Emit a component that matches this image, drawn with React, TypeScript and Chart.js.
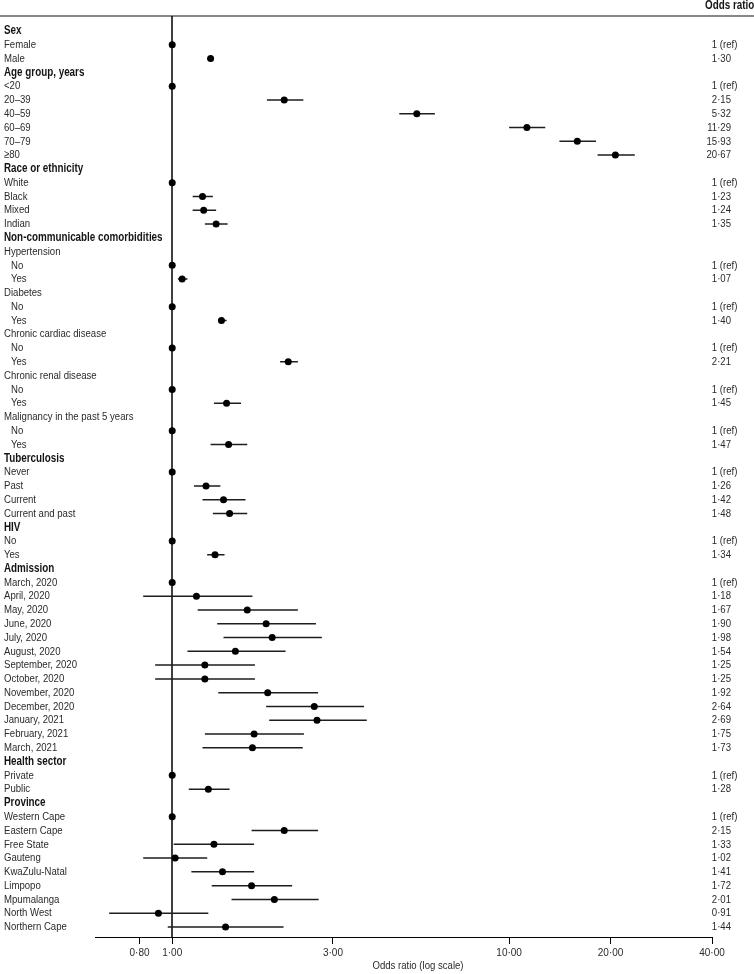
import React, { useEffect, useRef } from 'react';
import { Chart, registerables } from 'chart.js';

Chart.register(...registerables);

const N = null;

const rowLabels: string[] = [
  'Sex', 'Female', 'Male',
  'Age group, years', '<20', '20–39', '40–59', '60–69', '70–79', '≥80',
  'Race or ethnicity', 'White', 'Black', 'Mixed', 'Indian',
  'Non-communicable comorbidities',
  'Hypertension', 'No', 'Yes',
  'Diabetes', 'No', 'Yes',
  'Chronic cardiac disease', 'No', 'Yes',
  'Chronic renal disease', 'No', 'Yes',
  'Malignancy in the past 5 years', 'No', 'Yes',
  'Tuberculosis', 'Never', 'Past', 'Current', 'Current and past',
  'HIV', 'No', 'Yes',
  'Admission', 'March, 2020', 'April, 2020', 'May, 2020', 'June, 2020', 'July, 2020', 'August, 2020',
  'September, 2020', 'October, 2020', 'November, 2020', 'December, 2020', 'January, 2021', 'February, 2021', 'March, 2021',
  'Health sector', 'Private', 'Public',
  'Province', 'Western Cape', 'Eastern Cape', 'Free State', 'Gauteng', 'KwaZulu-Natal', 'Limpopo',
  'Mpumalanga', 'North West', 'Northern Cape',
];

// h = bold header, s = sub-header, i = item, n = indented item
const rowKinds: string[] = (
  'hii' + 'hiiiiii' + 'hiiii' + 'hsnnsnnsnnsnnsnn' + 'hiiii' + 'hii' + 'hiiiiiiiiiiiii' + 'hii' + 'hiiiiiiiii'
).split('');

const oddsRatios: (number | null)[] = [
  N, 1, 1.30,
  N, 1, 2.15, 5.32, 11.29, 15.93, 20.67,
  N, 1, 1.23, 1.24, 1.35,
  N, N, 1, 1.07, N, 1, 1.40, N, 1, 2.21, N, 1, 1.45, N, 1, 1.47,
  N, 1, 1.26, 1.42, 1.48,
  N, 1, 1.34,
  N, 1, 1.18, 1.67, 1.90, 1.98, 1.54, 1.25, 1.25, 1.92, 2.64, 2.69, 1.75, 1.73,
  N, 1, 1.28,
  N, 1, 2.15, 1.33, 1.02, 1.41, 1.72, 2.01, 0.91, 1.44,
];

const ciLower: (number | null)[] = [
  N, N, 1.27,
  N, N, 1.91, 4.72, 10.0, 14.1, 18.3,
  N, N, 1.15, 1.15, 1.25,
  N, N, N, 1.04, N, N, 1.37, N, N, 2.09, N, N, 1.33, N, N, 1.30,
  N, N, 1.16, 1.23, 1.32,
  N, N, 1.27,
  N, N, 0.82, 1.19, 1.36, 1.42, 1.11, 0.89, 0.89, 1.37, 1.90, 1.94, 1.25, 1.23,
  N, N, 1.12,
  N, N, 1.72, 1.01, 0.82, 1.14, 1.31, 1.50, 0.65, 0.97,
];

const ciUpper: (number | null)[] = [
  N, N, 1.33,
  N, N, 2.45, 6.02, 12.8, 18.1, 23.6,
  N, N, 1.32, 1.35, 1.46,
  N, N, N, 1.11, N, N, 1.45, N, N, 2.36, N, N, 1.60, N, N, 1.67,
  N, N, 1.39, 1.65, 1.67,
  N, N, 1.43,
  N, N, 1.73, 2.36, 2.67, 2.78, 2.17, 1.76, 1.76, 2.71, 3.71, 3.78, 2.46, 2.44,
  N, N, 1.48,
  N, N, 2.71, 1.75, 1.27, 1.75, 2.27, 2.72, 1.28, 2.14,
];

const xTicks: number[] = [0.8, 1, 3, 10, 20, 40];
const xMin = 0.59;
const xMax = 40;
const axisTitle = 'Odds ratio (log scale)';
const columnTitle = 'Odds ratio';

const fmt = (v: number) => v.toFixed(2).replace('.', '·');

function detectNarrow(): boolean {
  const c = document.createElement('canvas').getContext('2d')!;
  c.font = '20px "Liberation Sans Narrow", monospace';
  const a = c.measureText('abcdefghijkABCD').width;
  c.font = '20px monospace';
  const b = c.measureText('abcdefghijkABCD').width;
  return Math.abs(a - b) > 0.5;
}

export default function App() {
  const ref = useRef<HTMLCanvasElement>(null);

  useEffect(() => {
    const canvas = ref.current!;
    const narrow = detectNarrow();
    const family = narrow ? '"Liberation Sans Narrow"' : '"Liberation Sans"';
    const sx = narrow ? 1 : 0.82;
    const fs = 11.7;
    const fsBold = 12;
    const textColor = '#2a2a2a';

    const drawText = (ctx: CanvasRenderingContext2D, t: string, x: number, y: number, align: CanvasTextAlign) => {
      ctx.save();
      ctx.translate(x, y);
      ctx.scale(sx, 1);
      ctx.textAlign = align;
      ctx.textBaseline = 'middle';
      ctx.fillText(t, 0, 0);
      ctx.restore();
    };

    const decor = {
      id: 'decor',
      beforeDatasetsDraw(chart: any) {
        const { ctx, chartArea, scales } = chart;
        const x1 = Math.round(scales.x.getPixelForValue(1));
        ctx.save();
        ctx.strokeStyle = '#000';
        ctx.lineWidth = 1.5;
        ctx.beginPath();
        ctx.moveTo(x1, chartArea.top);
        ctx.lineTo(x1, chartArea.bottom);
        ctx.stroke();
        ctx.lineWidth = 1.2;
        ctx.strokeStyle = '#111';
        ctx.beginPath();
        ctx.moveTo(0, chartArea.top);
        ctx.lineTo(chart.width, chartArea.top);
        ctx.stroke();
        ctx.restore();
      },
      afterDraw(chart: any) {
        const { ctx, scales } = chart;
        const ys = scales.y;
        ctx.save();
        ctx.fillStyle = textColor;
        ctx.font = `${fs}px ${family}`;
        const refNumW = ctx.measureText('1·00').width * sx;
        const valueRight = 731;
        rowLabels.forEach((lab, i) => {
          const y = ys.getPixelForValue(i);
          const kind = rowKinds[i];
          if (kind === 'h') {
            ctx.font = `bold ${fsBold}px ${family}`;
            ctx.fillStyle = '#141414';
          } else {
            ctx.font = `${fs}px ${family}`;
            ctx.fillStyle = textColor;
          }
          drawText(ctx, lab, kind === 'n' ? 11 : 4, y, 'left');
          ctx.font = `${fs}px ${family}`;
          ctx.fillStyle = textColor;
          const or = oddsRatios[i];
          if (or !== null) {
            if (ciLower[i] === null) {
              drawText(ctx, '1 (ref)', valueRight - refNumW, y, 'left');
            } else {
              drawText(ctx, fmt(or), valueRight, y, 'right');
            }
          }
        });
        ctx.font = `bold ${fsBold}px ${family}`;
        ctx.fillStyle = '#141414';
        drawText(ctx, columnTitle, 705, 6, 'left');
        ctx.font = `${fs}px ${family}`;
        ctx.fillStyle = textColor;
        drawText(ctx, axisTitle, 418, 966, 'center');
        ctx.restore();
      },
    };

    const pointData: { x: number; y: number }[] = [];
    const ciData: { x: number | null; y: number | null }[] = [];
    oddsRatios.forEach((v, i) => {
      if (v !== null) pointData.push({ x: v, y: i });
      const lo = ciLower[i];
      const hi = ciUpper[i];
      if (lo !== null && hi !== null) {
        ciData.push({ x: lo, y: i }, { x: hi, y: i }, { x: null, y: null });
      }
    });

    const n = rowLabels.length;
    const top = 16;
    const bottom = 937;
    const firstY = 31;
    const lastY = 927;
    const perPx = (n - 1) / (lastY - firstY);
    const yMin = -(firstY - top) * perPx;
    const yMax = n - 1 + (bottom - lastY) * perPx;

    const chart = new Chart(canvas, {
      type: 'scatter',
      data: {
        datasets: [
          {
            label: 'Odds ratio',
            data: pointData,
            pointRadius: 3.5,
            pointBackgroundColor: '#000',
            pointBorderWidth: 0,
            showLine: false,
          } as any,
          {
            label: '95% CI',
            data: ciData,
            showLine: true,
            spanGaps: false,
            pointRadius: 0,
            borderColor: '#1e1e1e',
            borderWidth: 1.5,
          } as any,
        ],
      },
      options: {
        responsive: false,
        animation: false,
        devicePixelRatio: 1,
        layout: { padding: { left: 95, right: 754 - 712, top, bottom: 0 } },
        plugins: { legend: { display: false }, tooltip: { enabled: false } },
        events: [],
        scales: {
          x: {
            type: 'logarithmic',
            min: xMin,
            max: xMax,
            afterBuildTicks: (scale: any) => {
              scale.ticks = xTicks.map((v) => ({ value: v }));
            },
            afterFit: (scale: any) => {
              scale.height = 974 - bottom;
            },
            ticks: {
              autoSkip: false,
              maxRotation: 0,
              padding: 3,
              color: textColor,
              font: { family: narrow ? 'Liberation Sans Narrow' : 'Liberation Sans', size: narrow ? 11.5 : 10 },
              callback: (v: any) => fmt(Number(v)),
            },
            grid: {
              display: true,
              drawOnChartArea: false,
              drawTicks: true,
              tickLength: 7,
              tickWidth: 1,
              tickColor: '#000',
            },
            border: { display: true, color: '#000', width: 1 },
          },
          y: {
            type: 'linear',
            reverse: true,
            min: yMin,
            max: yMax,
            display: false,
          },
        },
      },
      plugins: [decor],
    } as any);

    return () => chart.destroy();
  }, []);

  return (
    <div style={{ position: 'absolute', left: 0, top: 0, width: 754, height: 974, background: '#fff' }}>
      <canvas ref={ref} width={754} height={974} style={{ display: 'block', width: 754, height: 974 }} />
    </div>
  );
}
